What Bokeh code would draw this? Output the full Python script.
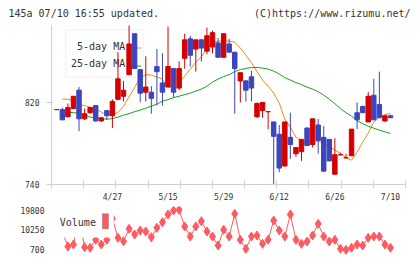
import numpy as np
from bokeh.plotting import figure
from bokeh.layouts import column
from bokeh.models import ColumnDataSource, FixedTicker, BoxAnnotation, Label, Range1d
from bokeh.embed import file_html
from bokeh.resources import INLINE

# Daily prices (one entry per trading day, oldest first)
open_ = [813, 813, 806, 814, 832, 804, 810, 817, 802, 812,
         807, 823, 826, 847, 887, 852, 830, 830, 855, 839,
         835, 853, 834, 863, 882, 872, 881, 870, 874, 878,
         864, 877, 869, 841, 841, 845, 806, 812, 811, 801,
         789, 758, 786, 770, 772, 795, 779, 798, 786, 784,
         750, 769, 766, 768, 810, 816, 801, 827, 818, 802, 807]
high = [813, 815, 819, 826, 835, 814, 815, 817, 806, 812,
        823, 869, 841, 898, 887, 852, 865, 836, 872, 868,
        894, 853, 860, 887, 885, 881, 882, 893, 890, 883,
        887, 882, 869, 849, 842, 851, 820, 820, 811, 801,
        798, 801, 810, 776, 784, 796, 804, 804, 797, 784,
        785, 771, 770, 794, 820, 817, 830, 843, 850, 807, 808]
low = [813, 803, 806, 814, 792, 803, 809, 801, 801, 803,
       795, 822, 821, 847, 853, 820, 821, 809, 817, 817,
       835, 825, 832, 853, 855, 850, 860, 867, 868, 864,
       864, 869, 809, 820, 821, 821, 805, 805, 794, 740,
       752, 758, 765, 767, 763, 778, 776, 770, 753, 763,
       750, 769, 766, 768, 794, 810, 801, 803, 805, 801, 805]
close = [813, 803, 815, 826, 804, 809, 815, 802, 805, 807,
         821, 843, 832, 877, 853, 829, 835, 824, 850, 830,
         855, 830, 853, 881, 866, 881, 873, 885, 888, 864,
         887, 869, 853, 849, 832, 834, 819, 820, 811, 787,
         756, 801, 779, 776, 784, 778, 804, 783, 753, 763,
         769, 769, 766, 794, 803, 810, 826, 803, 805, 807, 805]
volume = [12000, 9500, 2260, 3210, 16500, 1930, 1650, 5440, 3210, 5440,
          15500, 6390, 4780, 10650, 7950, 9850, 9370, 6670, 11130, 13780,
          17430, 19330, 19660, 11740, 7000, 11740, 14260, 9370, 7000, 2740,
          10180, 7000, 17760, 5440, 1170, 7000, 7480, 3540, 5440, 14590,
          9850, 7000, 17430, 5440, 3540, 4630, 7480, 13020, 7000, 4630,
          5440, 1170, 700, 1650, 3210, 2740, 6390, 7000, 7000, 3210, 1650]
nan = float("nan")
ma5 = [nan, 823.2, 823.2, 821.3, 818.0, 816.9, 815.4, 814.1, 810.5, 807.6,
       808.6, 810.0, 816.4, 825.5, 834.9, 843.7, 847.1, 846.6, 844.7, 842.7,
       834.9, 835.9, 839.8, 845.7, 852.5, 859.3, 864.2, 873.0, 878.8, 879.8,
       879.8, 879.8, 878.8, 873.0, 866.1, 858.8, 850.1, 841.8, 835.9, 829.1,
       819.3, 803.7, 795.9, 786.1, 782.7, 781.7, 782.2, 782.2, 780.3, 776.9,
       773.5, 770.5, 766.1, 763.7, 771.5, 781.3, 790.1, 800.8, 805.7, 808.1, 809.3]
ma25 = [nan, nan, 810.5, 810.0, 809.6, 807.6, 805.7, 805.2, 804.2, 803.7,
        804.2, 805.7, 807.6, 809.1, 811.0, 812.5, 814.4, 816.4, 818.3, 821.3,
        822.7, 824.7, 826.1, 827.6, 829.1, 831.0, 833.0, 835.9, 839.8, 842.7,
        845.2, 847.1, 850.0, 852.0, 853.2, 854.0, 854.1, 853.5, 852.5, 850.5,
        847.6, 844.2, 841.8, 839.3, 837.4, 834.9, 833.0, 830.5, 827.1, 823.2,
        818.8, 814.0, 810.0, 806.6, 802.2, 799.3, 796.9, 794.9, 793.0, 791.3, 789.8]
date_labels = {10: "4/27", 20: "5/15", 30: "5/29", 40: "6/12", 50: "6/26", 60: "7/10"}
price_ticks = [740, 820]
volume_ticks = [700, 10250, 19800]

MONO = "DejaVu Sans Mono"
RED = "#d40000"
BLUE = "#3d45bd"
ORANGE = "#f08c10"
GREEN = "#1aa31a"
VOL = "#ff5a60"
AXIS = "#cfcfcf"
TEXT = "#333333"

n = len(close)
idx = np.arange(n)
o = np.array(open_, float)
c = np.array(close, float)
src = ColumnDataSource(dict(
    x=idx, high=high, low=low,
    top=np.maximum(o, c), bottom=np.minimum(o, c),
    color=[RED if cc >= oo else BLUE for oo, cc in zip(o, c)],
))

x_lo, x_hi = -0.95, 62.7
x_range = Range1d(x_lo, x_hi)


def bare(fig):
    fig.xgrid.visible = False
    fig.ygrid.visible = False
    return fig


# ---- header strip (no axes, its own frame spans the full width) ----
h = figure(width=420, height=25, x_range=Range1d(0, 420), y_range=Range1d(0, 25),
           x_axis_location=None, y_axis_location=None, frame_align=False,
           output_backend="svg", toolbar_location=None, min_border=0,
           outline_line_color=None)
h.grid.visible = False
h.add_layout(Label(x=8, y=12, text="145a 07/10 16:55 updated.", text_baseline="middle",
                   text_font=MONO, text_font_size="10px", text_color=TEXT))
h.add_layout(Label(x=410, y=12, text="(C)https://www.rizumu.net/", text_align="right",
                   text_baseline="middle", text_font=MONO, text_font_size="10px", text_color=TEXT))

# ---- price pane ----
p = bare(figure(width=420, height=181, x_range=x_range, y_range=Range1d(740, 895),
                output_backend="svg", toolbar_location=None,
                min_border_left=51, min_border_right=15, min_border_top=0, min_border_bottom=22,
                outline_line_color=None))

# legend frame sits underneath the candles
p.add_layout(BoxAnnotation(left=1.62, right=15.63, bottom=844.7, top=890.5,
                           fill_alpha=0, line_color="#cccccc", line_width=1, level="underlay"))
for txt, yy in (("5-day MA", 874.9), ("25-day MA", 858.3)):
    p.add_layout(Label(x=12.3, y=yy, text=txt, text_align="right", text_baseline="middle",
                       text_font=MONO, text_font_size="10px", text_color=TEXT, level="underlay"))
p.add_layout(BoxAnnotation(left=12.9, right=15.2, bottom=872.5, top=873.5, fill_color=ORANGE,
                           fill_alpha=1, line_color=None, level="underlay"))
p.add_layout(BoxAnnotation(left=12.9, right=15.2, bottom=855.0, top=856.0, fill_color=GREEN,
                           fill_alpha=1, line_color=None, level="underlay"))

p.line(idx, ma5, color=ORANGE, line_width=1)
p.line(idx, ma25, color=GREEN, line_width=1)
p.segment(x0="x", y0="high", x1="x", y1="low", color="color", line_width=1, source=src)
p.vbar(x="x", width=0.8, top="top", bottom="bottom", fill_color="color",
       line_color="color", line_width=1, source=src)

ya = p.yaxis[0]
ya.ticker = FixedTicker(ticks=price_ticks)
ya.axis_line_color = AXIS
ya.major_tick_line_color = AXIS
ya.major_tick_in = 2
ya.major_tick_out = 5
ya.minor_tick_line_color = None
ya.major_label_standoff = 7
ya.major_label_text_font = MONO
ya.major_label_text_font_size = "8px"
ya.major_label_text_color = TEXT

xa = p.xaxis[0]
xa.ticker = FixedTicker(ticks=sorted(date_labels), minor_ticks=list(np.linspace(x_lo, x_hi, 12)))
xa.major_label_overrides = {k: v for k, v in date_labels.items()}
xa.axis_line_color = AXIS
xa.major_tick_line_color = None
xa.major_tick_in = 0
xa.major_tick_out = 0
xa.minor_tick_line_color = AXIS
xa.minor_tick_in = 4
xa.minor_tick_out = 4
xa.major_label_standoff = 4
xa.major_label_text_font = MONO
xa.major_label_text_font_size = "8px"
xa.major_label_text_color = TEXT

# ---- volume pane ----
v = bare(figure(width=420, height=53, x_range=x_range, y_range=Range1d(-2004, 21222),
                output_backend="svg", toolbar_location=None,
                min_border_left=51, min_border_right=15, min_border_top=0, min_border_bottom=4,
                outline_line_color=None))
v.xaxis.visible = False
v.line(idx, volume, color=VOL, line_width=1)
v.scatter(idx, volume, marker="diamond", size=9, color=VOL)

va = v.yaxis[0]
va.ticker = FixedTicker(ticks=volume_ticks)
va.axis_line_color = None
va.major_tick_line_color = None
va.minor_tick_line_color = None
va.major_tick_out = 0
va.major_tick_in = 0
va.major_label_standoff = 7
va.major_label_text_font = MONO
va.major_label_text_font_size = "8px"
va.major_label_text_color = TEXT

v.add_layout(BoxAnnotation(right=10.24, bottom=6530, fill_color="white", fill_alpha=1, line_color=None))
v.add_layout(Label(x=0.54, y=13640, text="Volume", text_baseline="middle",
                   text_font=MONO, text_font_size="10px", text_color=TEXT))
v.add_layout(BoxAnnotation(left=8.21, right=9.29, bottom=10654, top=17764, fill_color=VOL,
                           fill_alpha=1, line_color="#444444", line_width=1))

layout = column(h, p, v, spacing=0)
open("out.html", "w").write(file_html(layout, INLINE))
